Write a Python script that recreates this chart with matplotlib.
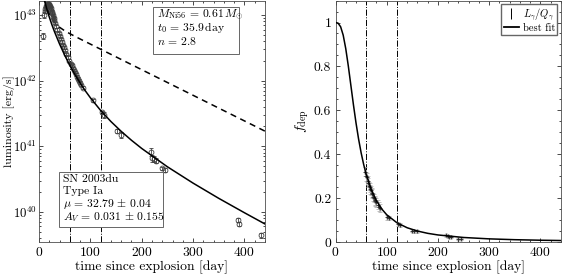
import matplotlib
matplotlib.use('Agg')
import matplotlib.pyplot as plt
from matplotlib.ticker import MultipleLocator, FixedLocator, LogLocator, NullFormatter
from matplotlib.lines import Line2D
from matplotlib.patches import Rectangle

plt.rcParams['font.family'] = 'serif'
plt.rcParams['font.serif'] = ['cmr10']
plt.rcParams['mathtext.fontset'] = 'cm'
plt.rcParams['axes.formatter.use_mathtext'] = True
plt.rcParams['axes.unicode_minus'] = False

# === bolometric light curve (left) ===
t_lum = [7, 9, 11, 12, 13, 14, 15, 16, 17, 18, 19, 20, 21, 22, 23, 24, 25, 26,
         27, 28, 29, 30, 32, 34, 36, 38, 40, 42, 44, 46, 48, 50, 53, 56, 59, 62,
         64, 66, 68, 70, 72, 74, 76, 78, 80, 82, 85, 106, 122, 126, 152, 159,
         218, 220, 223, 227, 239, 246, 388, 389, 432]
L_lum = [4.8e42, 1.0e43, 1.15e43, 1.25e43, 1.32e43, 1.38e43, 1.42e43, 1.45e43,
         1.47e43, 1.47e43, 1.45e43, 1.42e43, 1.38e43, 1.33e43, 1.27e43, 1.2e43,
         1.13e43, 1.06e43, 1.0e43, 9.4e42, 8.9e42, 8.4e42, 7.5e42, 6.7e42,
         6.0e42, 5.3e42, 4.8e42, 4.3e42, 3.9e42, 3.5e42, 3.2e42, 2.9e42,
         2.55e42, 2.25e42, 2.0e42, 1.8e42, 1.7e42, 1.55e42, 1.45e42, 1.35e42,
         1.25e42, 1.15e42, 1.07e42, 1.0e42, 9.3e41, 8.6e41, 7.8e41, 5.0e41,
         3.3e41, 2.97e41, 1.7e41, 1.5e41, 8.2e40, 6.5e40, 6.4e40, 6.0e40,
         4.6e40, 4.3e40, 7.5e39, 6.6e39, 4.4e39]
L_err = [0.5e42, 0.1e43, 0.06e43, 0.06e43, 0.06e43, 0.06e43, 0.06e43, 0.06e43,
         0.06e43, 0.06e43, 0.06e43, 0.06e43, 0.06e43, 0.06e43, 0.06e43, 0.05e43,
         0.05e43, 0.05e43, 0.05e43, 0.4e42, 0.4e42, 0.4e42, 0.3e42, 0.3e42,
         0.3e42, 0.25e42, 0.2e42, 0.2e42, 0.2e42, 0.15e42, 0.15e42, 0.12e42,
         0.1e42, 0.1e42, 0.1e42, 0.08e42, 0.08e42, 0.07e42, 0.07e42, 0.06e42,
         0.06e42, 0.05e42, 0.05e42, 0.05e42, 0.4e41, 0.4e41, 0.4e41, 0.3e41,
         0.2e41, 0.3e41, 0.1e41, 0.15e41, 1.2e40, 0.8e40, 0.6e40, 0.5e40,
         0.3e40, 0.3e40, 0.6e39, 0.5e39, 0.4e39]

# best fit and full-trapping curves
t_curve = [10, 15, 20, 25, 30, 40, 50, 60, 70, 80, 90, 100, 120, 140, 160, 180,
           200, 250, 300, 350, 400, 450]
L_fit = [1.753e43, 1.252e43, 9.30e42, 7.134e42, 5.598e42, 3.616e42, 2.443e42,
         1.712e42, 1.238e42, 9.21e41, 7.02e41, 5.48e41, 3.51e41, 2.38e41,
         1.687e41, 1.233e41, 9.25e40, 4.86e40, 2.74e40, 1.606e40, 9.69e39,
         5.92e39]
Q_dep = [1.788e43, 1.3275e43, 1.0532e43, 8.847e42, 7.765e42, 6.499e42,
         5.748e42, 5.193e42, 4.727e42, 4.314e42, 3.940e42, 3.602e42, 3.008e42,
         2.515e42, 2.101e42, 1.755e42, 1.4665e42, 9.358e41, 5.973e41, 3.810e41,
         2.432e41, 1.551e41]

# === deposition function (right) ===
t_frac = [0, 5, 10, 15, 20, 25, 30, 35, 40, 45, 50, 55, 60, 70, 80, 90, 100,
          120, 140, 160, 180, 200, 250, 300, 350, 400, 450]
f_fit = [1.0, 0.9971, 0.9805, 0.9423, 0.8808, 0.8016, 0.7133, 0.6250, 0.5427,
         0.4696, 0.4065, 0.3528, 0.3076, 0.2375, 0.1875, 0.1511, 0.1240, 0.0875,
         0.0648, 0.0499, 0.0395, 0.0321, 0.0206, 0.0143, 0.0105, 0.0081, 0.0064]

t_dep = [58, 60, 61, 63, 64, 66, 67, 68, 70, 71, 72, 74, 75, 77, 78, 80, 82, 84,
         86, 100, 105, 122, 126, 150, 154, 159, 216, 219, 222, 226, 240, 245]
f_dep = [0.32, 0.30, 0.295, 0.28, 0.27, 0.255, 0.25, 0.24, 0.235, 0.225, 0.22,
         0.205, 0.20, 0.19, 0.185, 0.18, 0.17, 0.16, 0.155, 0.112, 0.108, 0.083,
         0.078, 0.052, 0.049, 0.048, 0.030, 0.026, 0.025, 0.022, 0.014, 0.013]
f_err = [0.02, 0.02, 0.02, 0.02, 0.02, 0.02, 0.02, 0.02, 0.02, 0.02, 0.02, 0.02,
         0.02, 0.02, 0.02, 0.02, 0.02, 0.02, 0.02, 0.012, 0.01, 0.008, 0.008,
         0.006, 0.006, 0.006, 0.006, 0.006, 0.005, 0.004, 0.003, 0.003]

t_lines = [60, 120]

fit_lines = ['$M_{\\rm Ni56}\\,=\\,0.61\\,M_{\\odot}$',
             '$t_0\\,=\\,35.9\\,{\\rm day}$', '$n\\,=\\,2.8$']
sn_lines = ['SN 2003du', 'Type Ia', '$\\mu\\,=\\,32.79\\,\\pm\\,0.04$',
            '$A_V\\,=\\,0.031\\,\\pm\\,0.155$']

fig = plt.figure(figsize=(5.62, 2.75), dpi=100)
ax1 = fig.add_axes([0.0694, 0.12, 0.402, 0.878])
ax2 = fig.add_axes([0.597, 0.12, 0.401, 0.878])

FS = 9.8
BOX_FS = 8.4


def text_box(ax, x0, y0, x1, y1, tx, ys, lines):
    ax.add_patch(Rectangle((x0, y0), x1 - x0, y1 - y0, transform=ax.transAxes,
                           fc='white', ec='0.4', lw=0.7, zorder=5))
    for y, s in zip(ys, lines):
        ax.text(tx, y, s, transform=ax.transAxes, fontsize=BOX_FS,
                va='baseline', ha='left', zorder=6)


# --- left panel ---
ax1.errorbar(t_lum, L_lum, yerr=L_err, fmt='o', ms=3.5, mfc='none', mec='0.25',
             mew=0.6, ecolor='0.25', elinewidth=0.6, capsize=1.5, zorder=3)
ax1.plot(t_curve, L_fit, 'k-', lw=1.1, zorder=4)
ax1.plot(t_curve, Q_dep, 'k--', lw=1.1, dashes=(4, 3), zorder=2)
for tl in t_lines:
    ax1.axvline(tl, color='k', ls='-.', lw=0.7)

ax1.set_yscale('log')
ax1.set_xlim(0, 440)
ax1.set_ylim(10**39.54, 10**43.22)
ax1.set_xlabel('time since explosion [day]', fontsize=FS, labelpad=1)
ax1.set_ylabel('luminosity [erg/s]', fontsize=8.6)
ax1.yaxis.set_label_coords(-0.108, 0.5)
ax1.xaxis.set_major_locator(MultipleLocator(100))
ax1.xaxis.set_minor_locator(MultipleLocator(20))
ax1.yaxis.set_major_locator(FixedLocator([1e40, 1e41, 1e42, 1e43]))
ax1.yaxis.set_minor_locator(LogLocator(base=10, subs=range(2, 10)))
ax1.yaxis.set_minor_formatter(NullFormatter())

text_box(ax1, 0.504, 0.780, 0.885, 0.972, 0.521, [0.930, 0.872, 0.814],
         fit_lines)
text_box(ax1, 0.0898, 0.0632, 0.547, 0.2905, 0.1075,
         [0.249, 0.198, 0.146, 0.092], sn_lines)

# --- right panel ---
ax2.errorbar(t_dep, f_dep, yerr=f_err, xerr=2, fmt='+', ms=3, mec='0.15',
             mew=0.6, ecolor='0.7', elinewidth=0.6, capsize=1.5, zorder=3)
ax2.plot(t_frac, f_fit, 'k-', lw=1.1, zorder=4)
for tl in t_lines:
    ax2.axvline(tl, color='k', ls='-.', lw=0.7)

ax2.set_xlim(0, 440)
ax2.set_ylim(0, 1.1)
ax2.set_xlabel('time since explosion [day]', fontsize=FS, labelpad=1)
ax2.set_ylabel('$f_{\\rm dep}$', fontsize=FS + 0.5, labelpad=2)
ax2.xaxis.set_major_locator(MultipleLocator(100))
ax2.xaxis.set_minor_locator(MultipleLocator(20))
ax2.yaxis.set_major_locator(FixedLocator([0, 0.2, 0.4, 0.6, 0.8, 1.0]))
ax2.set_yticklabels(['0', '0.2', '0.4', '0.6', '0.8', '1'])
ax2.yaxis.set_minor_locator(MultipleLocator(0.05))

leg_err = ax2.errorbar([], [], yerr=[], fmt='none', ecolor='k', elinewidth=0.7,
                       capsize=2)
leg_line = Line2D([], [], color='k', lw=1.3)
ax2.legend([leg_err, leg_line], ['$L_{\\gamma}/Q_{\\gamma}$', 'best fit'],
           loc='upper right', fontsize=7.6, frameon=True, fancybox=False,
           edgecolor='0.4', handlelength=1.5, borderpad=0.2, labelspacing=0.05,
           handletextpad=0.3, borderaxespad=0.35, framealpha=1)

for ax in (ax1, ax2):
    ax.tick_params(which='both', direction='in', top=True, right=True,
                   labelsize=FS, pad=3)
    ax.tick_params(which='major', length=3, width=0.5)
    ax.tick_params(which='minor', length=1.5, width=0.5)
    for sp in ax.spines.values():
        sp.set_linewidth(0.6)
        sp.set_color('0.3')
ax1.tick_params(axis='y', pad=1.5, labelsize=9.2)

fig.savefig('out.png', dpi=100)
